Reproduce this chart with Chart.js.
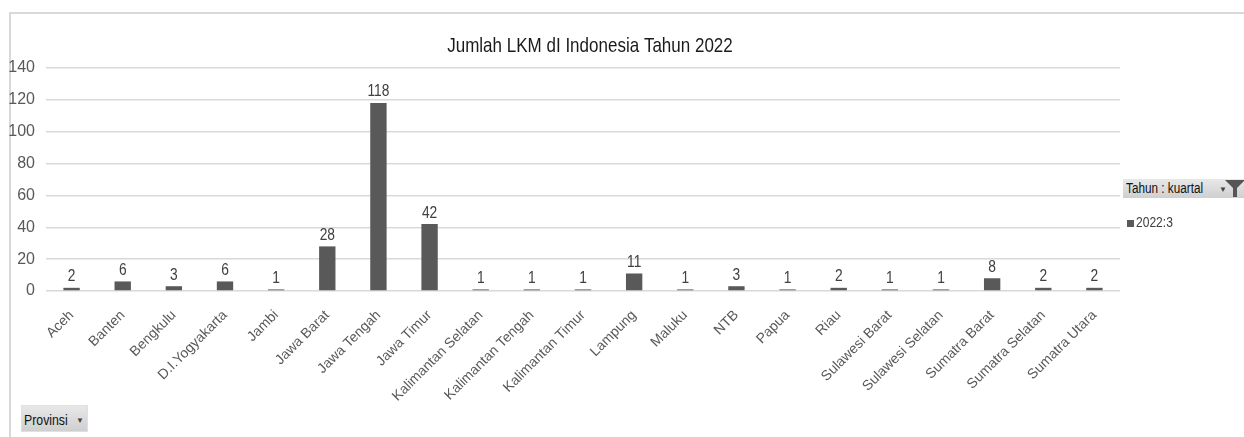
<!DOCTYPE html>
<html>
<head>
<meta charset="utf-8">
<script src="https://cdn.jsdelivr.net/npm/chart.js@4.4.1/dist/chart.umd.min.js"></script>
<style>
    html, body { margin: 0; padding: 0; background: #fff; }
    #wrap { position: relative; width: 1244px; height: 437px; overflow: hidden; }
    #frame { position: absolute; left: 9px; top: 12px; width: 1300px; height: 500px;
             border-left: 2px solid #d9d9d9; border-top: 2px solid #d9d9d9; }
    canvas { position: absolute; left: 0; top: 0; }
    .btn { position: absolute; background: linear-gradient(#e8e8e8, #cfcfcf);
           font-family: 'Liberation Sans', Arial, sans-serif; color: #111;
           box-sizing: border-box; white-space: nowrap; }
    .txt { display: inline-block; transform-origin: left center; }
    #filterBtn { left: 1123px; top: 179px; width: 121px; height: 19px; padding: 1px 0 0 3px; font-size: 14px; }
    #filterBtn .txt { transform: scaleX(0.84); }
    #filterBtn .arrow { position: absolute; left: 96px; top: 6px; font-size: 8px; color: #444; }
    #filterBtn svg { position: absolute; left: 101px; top: 0px; }
    #legendItem { position: absolute; left: 1127px; top: 214px; color: #404040; font-size: 14px;
                  font-family: 'Liberation Sans', Arial, sans-serif; }
    #legendItem .txt { transform: scaleX(0.86); }
    #legendItem .sq { display: inline-block; width: 7px; height: 7px; background: #595959; margin-right: 2px; }
    #provBtn { left: 21px; top: 405px; width: 67px; height: 27px; padding: 5px 0 0 2px; border: 1px solid #e0e0e0; font-size: 15px; }
    #provBtn .txt { transform: scaleX(0.82); }
    #provBtn .arrow { position: absolute; left: 54px; top: 10px; font-size: 8px; color: #444; }
</style>
</head>
<body>
<div id="wrap">
    <div id="frame"></div>
    <canvas id="chart" width="1244" height="437"></canvas>
    <div class="btn" id="filterBtn"><span class="txt">Tahun : kuartal</span><span class="arrow">&#9660;</span>
        <svg width="22" height="19" viewBox="0 0 22 19"><path d="M1 1 H21 L13 9 V18 H9 V9 Z" fill="#555"/></svg>
    </div>
    <div id="legendItem"><span class="sq"></span><span class="txt">2022:3</span></div>
    <div class="btn" id="provBtn"><span class="txt">Provinsi</span><span class="arrow">&#9660;</span></div>
</div>
<script>
// Provinces and number of LKM per province (2022 Q3)
const provinces = ['Aceh', 'Banten', 'Bengkulu', 'D.I.Yogyakarta', 'Jambi', 'Jawa Barat', 'Jawa Tengah',
    'Jawa Timur', 'Kalimantan Selatan', 'Kalimantan Tengah', 'Kalimantan Timur', 'Lampung', 'Maluku',
    'NTB', 'Papua', 'Riau', 'Sulawesi Barat', 'Sulawesi Selatan', 'Sumatra Barat', 'Sumatra Selatan',
    'Sumatra Utara'];
const jumlahLKM = [2, 6, 3, 6, 1, 28, 118, 42, 1, 1, 1, 11, 1, 3, 1, 2, 1, 1, 8, 2, 2];
const yTicks = [0, 20, 40, 60, 80, 100, 120, 140];

const chartTitle = 'Jumlah LKM dI Indonesia Tahun 2022';
const baseFont = "'Liberation Sans', Arial, sans-serif";

// draw text squeezed horizontally (narrow look)
function narrowText(ctx, text, x, y, squeeze) {
    ctx.save();
    ctx.translate(x, y);
    ctx.scale(squeeze, 1);
    ctx.fillText(text, 0, 0);
    ctx.restore();
}

// Title and value labels above each bar
const labelsPlugin = {
    id: 'barLabels',
    afterDatasetsDraw(chart) {
        const ctx = chart.ctx;
        ctx.save();
        ctx.font = `16px ${baseFont}`;
        ctx.fillStyle = '#404040';
        ctx.textAlign = 'center';
        ctx.textBaseline = 'bottom';
        chart.getDatasetMeta(0).data.forEach((bar, i) => {
            narrowText(ctx, String(jumlahLKM[i]), bar.x, bar.y - 3, 0.86);
        });
        ctx.font = `21px ${baseFont}`;
        ctx.fillStyle = '#1a1a1a';
        ctx.textBaseline = 'alphabetic';
        narrowText(ctx, chartTitle, 590, 52, 0.81);
        ctx.restore();
    }
};

const ctx = document.getElementById('chart').getContext('2d');
new Chart(ctx, {
    type: 'bar',
    data: {
        labels: provinces,
        datasets: [{
            label: '2022:3',
            data: jumlahLKM,
            backgroundColor: '#595959',
            barPercentage: 0.32,
            categoryPercentage: 1
        }]
    },
    options: {
        responsive: false,
        animation: false,
        layout: { padding: { top: 68, right: 124, left: 0, bottom: 0 } },
        plugins: {
            legend: { display: false },
            title: { display: false },
            tooltip: { enabled: false }
        },
        scales: {
            x: {
                grid: { display: false },
                border: { display: false },
                ticks: {
                    color: '#595959',
                    font: { family: baseFont, size: 14 },
                    minRotation: 45,
                    maxRotation: 45,
                    autoSkip: false,
                    padding: 8
                },
                afterFit(axis) { axis.height = 146; }
            },
            y: {
                min: 0,
                max: 140,
                afterBuildTicks(axis) { axis.ticks = yTicks.map(v => ({ value: v })); },
                grid: { color: '#d9d9d9', lineWidth: 1.5, drawTicks: false },
                border: { display: false },
                ticks: {
                    color: '#595959',
                    font: { family: baseFont, size: 16 },
                    padding: 11
                },
                afterFit(axis) { axis.width = 46; }
            }
        }
    },
    plugins: [labelsPlugin]
});
</script>
</body>
</html>
